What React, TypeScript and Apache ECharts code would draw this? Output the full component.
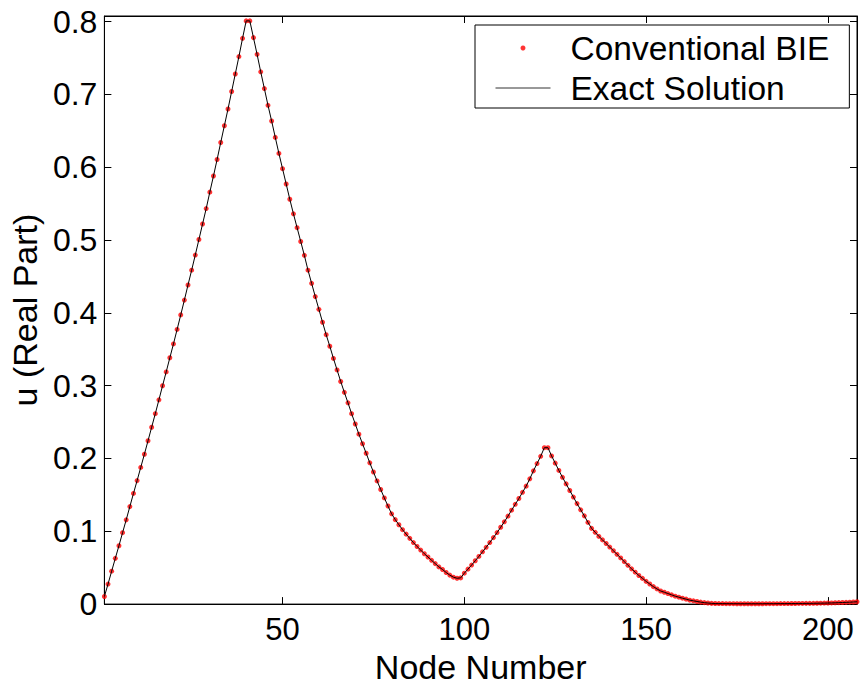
import React, { useEffect, useRef } from "react";
import * as echarts from "echarts";

// Exact solution, real part of u, at nodes 1..208
const exactSolution: number[] = [
  // nodes 1-16
  0.0104, 0.0275, 0.0452, 0.0628, 0.0801, 0.0981, 0.1157, 0.1339, 0.152, 0.1696, 0.1877, 0.2058, 0.2243, 0.2429, 0.2615, 0.2805,
  // nodes 17-32
  0.2999, 0.3189, 0.3383, 0.3573, 0.3772, 0.3972, 0.4175, 0.4383, 0.4586, 0.4794, 0.5007, 0.522, 0.5432, 0.5658, 0.5879, 0.6106,
  // nodes 33-41
  0.634, 0.657, 0.68, 0.704, 0.728, 0.752, 0.777, 0.801, 0.801,
  // nodes 42-56
  0.778, 0.755, 0.731, 0.708, 0.685, 0.6635, 0.641, 0.619, 0.598, 0.577, 0.556, 0.536, 0.517, 0.498, 0.479,
  // nodes 57-86
  0.4586, 0.4405, 0.4224, 0.4048, 0.3871, 0.37, 0.3541, 0.3374, 0.3216, 0.3057, 0.2908, 0.2764, 0.2615, 0.2474, 0.2334,
  0.2202, 0.2072, 0.194, 0.1814, 0.1692, 0.1574, 0.1458, 0.1347, 0.124, 0.116, 0.109, 0.1022, 0.0961, 0.0903, 0.0845,
  // nodes 87-99
  0.0791, 0.0742, 0.0692, 0.0647, 0.0601, 0.0556, 0.0511, 0.0475, 0.0434, 0.0398, 0.037, 0.0355, 0.036,
  // nodes 100-123
  0.0425, 0.048, 0.0536, 0.0595, 0.0655, 0.0718, 0.078, 0.0845, 0.0913, 0.0982, 0.1055, 0.113, 0.1208, 0.129, 0.137, 0.145,
  0.1535, 0.162, 0.172, 0.183, 0.193, 0.203, 0.2148, 0.2148,
  // nodes 124-131
  0.2035, 0.1936, 0.1836, 0.1741, 0.1651, 0.156, 0.147, 0.138,
  // nodes 132-168
  0.1295, 0.1212, 0.1122, 0.104, 0.0986, 0.093, 0.0882, 0.0832, 0.0783, 0.0733, 0.0683, 0.0634, 0.0583, 0.0533, 0.0484,
  0.0438, 0.0393, 0.0353, 0.0312, 0.0276, 0.024, 0.0208, 0.018, 0.0163, 0.0145, 0.0127, 0.0109, 0.0095, 0.0081, 0.0068,
  0.0054, 0.0045, 0.0036, 0.0027, 0.002, 0.0015, 0.001,
  // nodes 169-208
  0.0008, 0.0007, 0.0007, 0.0006, 0.0006, 0.0006, 0.0005, 0.0005, 0.0005, 0.0005, 0.0005, 0.0005, 0.0005, 0.0005,
  0.0006, 0.0006, 0.0006, 0.0006, 0.0007, 0.0007, 0.0007, 0.0008, 0.0008, 0.0009, 0.0009, 0.001, 0.001, 0.0011,
  0.0012, 0.0013, 0.0014, 0.0015, 0.0016, 0.0018, 0.002, 0.0022, 0.0024, 0.0026, 0.0029, 0.0032,
];

// Conventional BIE results coincide with the exact solution at the nodes
const conventionalBIE: number[] = exactSolution.slice();

const xTicks = [50, 100, 150, 200];
const yTicks = [0, 0.1, 0.2, 0.3, 0.4, 0.5, 0.6, 0.7, 0.8];

const FONT = "'Liberation Sans', Arial, Helvetica, sans-serif";

export default function App() {
  const ref = useRef<HTMLDivElement>(null);

  useEffect(() => {
    if (!ref.current) return;
    const chart = echarts.init(ref.current, undefined, { renderer: "svg" });

    const bieData = conventionalBIE.map((v, i) => [i + 1, v]);
    const exactData = exactSolution.map((v, i) => [i + 1, v]);

    const tickStyle = { color: "#000", width: 1 };

    chart.setOption({
      animation: false,
      backgroundColor: "#fff",
      textStyle: { fontFamily: FONT },
      grid: {
        left: 104,
        right: 4,
        top: 16,
        bottom: 78,
        show: true,
        borderColor: "#000",
        borderWidth: 1,
        backgroundColor: "transparent",
      },
      legend: {
        show: true,
        orient: "vertical",
        left: 475,
        top: 25,
        padding: [6, 20, 3, 20],
        itemGap: 6,
        itemWidth: 55,
        itemHeight: 5,
        backgroundColor: "#fff",
        borderColor: "#000",
        borderWidth: 1,
        selectedMode: false,
        textStyle: {
          fontSize: 33.5,
          lineHeight: 32,
          color: "#000",
          fontFamily: FONT,
          padding: [0, 0, 0, 15],
        },
        data: [
          { name: "Conventional BIE", icon: "circle", itemStyle: { color: "#ff0000" } },
          {
            name: "Exact Solution",
            itemStyle: { opacity: 0 },
            lineStyle: { width: 1, color: "#333" },
          },
        ],
      },
      xAxis: [
        {
          type: "value",
          min: 1,
          max: 208,
          position: "bottom",
          name: "Node Number",
          nameLocation: "middle",
          nameGap: 40,
          nameTextStyle: { fontSize: 34, color: "#000", fontFamily: FONT },
          axisLine: { show: true, onZero: false, lineStyle: tickStyle },
          axisTick: { show: true, inside: true, length: 7, customValues: xTicks, lineStyle: tickStyle },
          axisLabel: { show: true, customValues: xTicks, fontSize: 31, color: "#000", margin: 10, fontFamily: FONT },
          splitLine: { show: false },
        },
        {
          type: "value",
          min: 1,
          max: 208,
          position: "top",
          axisLine: { show: true, onZero: false, lineStyle: tickStyle },
          axisTick: { show: true, inside: true, length: 7, customValues: xTicks, lineStyle: tickStyle },
          axisLabel: { show: false },
          splitLine: { show: false },
        },
      ],
      yAxis: [
        {
          type: "value",
          min: 0,
          max: 0.8077,
          position: "left",
          name: "u (Real Part)",
          nameLocation: "middle",
          nameGap: 55,
          nameTextStyle: { fontSize: 34, color: "#000", fontFamily: FONT },
          axisLine: { show: true, onZero: false, lineStyle: tickStyle },
          axisTick: { show: true, inside: true, length: 7, customValues: yTicks, lineStyle: tickStyle },
          axisLabel: {
            show: true,
            customValues: yTicks,
            fontSize: 32,
            color: "#000",
            margin: 7,
            fontFamily: FONT,
            formatter: (v: number) => (v === 0 ? "0" : v.toFixed(1)),
          },
          splitLine: { show: false },
        },
        {
          type: "value",
          min: 0,
          max: 0.8077,
          position: "right",
          axisLine: { show: true, onZero: false, lineStyle: tickStyle },
          axisTick: { show: true, inside: true, length: 7, customValues: yTicks, lineStyle: tickStyle },
          axisLabel: { show: false },
          splitLine: { show: false },
        },
      ],
      series: [
        {
          name: "Conventional BIE",
          type: "scatter",
          xAxisIndex: 0,
          yAxisIndex: 0,
          data: bieData,
          symbol: "circle",
          symbolSize: 5,
          itemStyle: { color: "#ff0000" },
          silent: true,
          z: 2,
        },
        {
          name: "Exact Solution",
          type: "line",
          xAxisIndex: 0,
          yAxisIndex: 0,
          data: exactData,
          symbol: "none",
          showSymbol: false,
          lineStyle: { color: "#000", width: 1 },
          itemStyle: { color: "#000" },
          silent: true,
          z: 3,
        },
      ],
    });

    return () => chart.dispose();
  }, []);

  return (
    <div
      ref={ref}
      style={{ position: "absolute", left: 0, top: 0, width: 861, height: 689, background: "#fff" }}
    />
  );
}
